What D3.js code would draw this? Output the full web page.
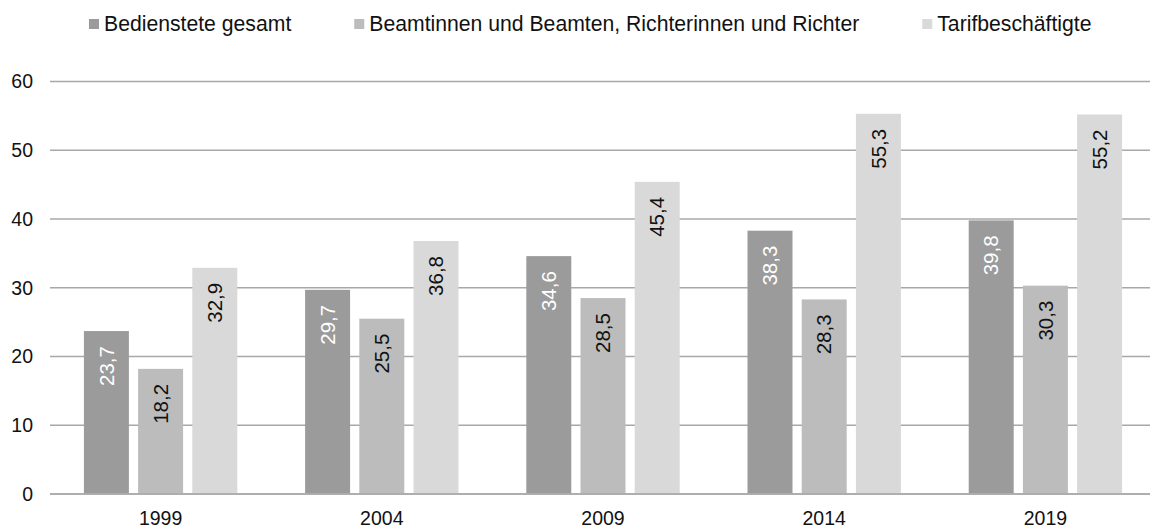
<!DOCTYPE html>
<html>
<head>
<meta charset="utf-8">
<script src="https://cdn.jsdelivr.net/npm/d3@7"></script>
<style>
  html, body { margin: 0; padding: 0; background: #fff; }
  svg { display: block; font-family: "Liberation Sans", Arial, sans-serif; }
</style>
</head>
<body>
<svg id="chart" width="1150" height="529"></svg>
<script>
const categories = ["1999", "2004", "2009", "2014", "2019"];
const seriesNames = ["Bedienstete gesamt", "Beamtinnen und Beamten, Richterinnen und Richter", "Tarifbeschäftigte"];
const bediensteteGesamt = [23.7, 29.7, 34.6, 38.3, 39.8];
const beamte = [18.2, 25.5, 28.5, 28.3, 30.3];
const tarif = [32.9, 36.8, 45.4, 55.3, 55.2];
const yTicks = [0, 10, 20, 30, 40, 50, 60];
const colors = ["#9b9b9b", "#bcbcbc", "#d9d9d9"];
const labelColors = ["#ffffff", "#111111", "#111111"];

const seriesValues = [bediensteteGesamt, beamte, tarif];

(function () {
const svg = d3.select("#chart");
const mLeft = 50, mRight = 1156, mTop = 81.5, mBottom = 494;

const y = d3.scaleLinear().domain([0, 60]).range([mBottom, mTop]);
const x0 = d3.scaleBand().domain(categories).range([mLeft, mRight]).padding(0);
const x1 = d3.scaleBand().domain(d3.range(3)).range([0, 162.6]).paddingInner(0.17).paddingOuter(0.085);

const fmt = d3.formatLocale({decimal: ",", thousands: ".", grouping: [3], currency: ["", "€"]}).format(".1f");

// gridlines
svg.append("g").selectAll("line").data(yTicks).join("line")
  .attr("x1", mLeft).attr("x2", 1150)
  .attr("y1", d => y(d)).attr("y2", d => y(d))
  .attr("stroke", "#a8a8a8").attr("stroke-width", 1.5);

// y tick labels
svg.append("g").selectAll("text").data(yTicks).join("text")
  .attr("x", 33).attr("y", d => y(d)).attr("dy", "0.35em")
  .attr("text-anchor", "end").attr("font-size", 19.5).attr("fill", "#111")
  .text(d => d);

// bars
const groups = svg.append("g").selectAll("g").data(categories).join("g")
  .attr("transform", c => `translate(${x0(c) + x0.bandwidth() / 2 - 81.3},0)`);

groups.each(function(c, ci) {
  const g = d3.select(this);
  seriesValues.forEach((vals, si) => {
    const v = vals[ci];
    g.append("rect")
      .attr("x", x1(si)).attr("width", x1.bandwidth())
      .attr("y", y(v)).attr("height", y(0) - y(v) - 0.75)
      .attr("fill", colors[si]);
    const cx = x1(si) + x1.bandwidth() / 2;
    const ty = y(v) + 15;
    g.append("text")
      .attr("transform", `translate(${cx},${ty}) rotate(-90)`)
      .attr("text-anchor", "end").attr("dy", "0.35em")
      .attr("font-size", 20.5).attr("fill", labelColors[si])
      .text(fmt(v));
  });
});

// x axis line
svg.append("line").attr("x1", mLeft).attr("x2", 1150)
  .attr("y1", y(0)).attr("y2", y(0)).attr("stroke", "#a8a8a8").attr("stroke-width", 1.5);

// x labels
svg.append("g").selectAll("text").data(categories).join("text")
  .attr("x", c => x0(c) + x0.bandwidth() / 2).attr("y", 525)
  .attr("text-anchor", "middle").attr("font-size", 19.5).attr("fill", "#111")
  .text(c => c);

// legend
const legend = svg.append("g");
let lx = 89;
seriesNames.forEach((name, i) => {
  legend.append("rect").attr("x", lx).attr("y", 19).attr("width", 10).attr("height", 10).attr("fill", colors[i]);
  const t = legend.append("text").attr("x", lx + 15).attr("y", 31)
    .attr("font-size", 21.2).attr("fill", "#111").text(name);
  lx += 15 + t.node().getComputedTextLength() + 63;
});
})();
</script>
</body>
</html>
